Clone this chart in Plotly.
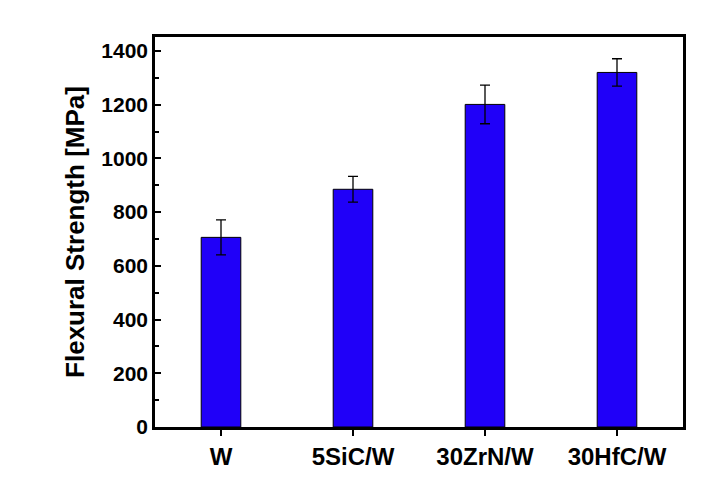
import plotly.graph_objects as go

samples = ["W", "5SiC/W", "30ZrN/W", "30HfC/W"]
strength = [706, 885, 1201, 1320]
strength_err = [65, 48, 72, 51]

fig = go.Figure()

fig.add_trace(
    go.Bar(
        x=samples,
        y=strength,
        width=0.30,
        marker=dict(color="#2000F8", line=dict(color="black", width=1)),
        error_y=dict(type="data", array=strength_err, color="black", thickness=1.3, width=5),
    )
)

# the page body has an 8px margin, so the figure is shifted by that much
fig.update_layout(
    width=704,
    height=495,
    margin=dict(l=147, r=29, t=29, b=76),
    plot_bgcolor="white",
    paper_bgcolor="white",
    showlegend=False,
    font=dict(family="Liberation Sans, Arial", color="black"),
)
fig.update_xaxes(
    range=[-0.5, 3.5],
    showline=True, linecolor="black", linewidth=2.5, mirror=True,
    ticks="outside", ticklen=6, tickwidth=2, tickcolor="black",
    tickfont=dict(size=24, family="Liberation Sans, Arial", weight="bold"),
    showgrid=False,
)
fig.update_yaxes(
    range=[0, 1452],
    dtick=200,
    showline=True, linecolor="black", linewidth=2.5, mirror=True,
    ticks="inside", ticklen=6, tickwidth=2, tickcolor="black",
    minor=dict(dtick=100, ticks="inside", ticklen=4, tickwidth=2, tickcolor="black"),
    tickfont=dict(size=21, family="Liberation Sans, Arial", weight="bold"),
    title=dict(text="Flexural Strength [MPa]", standoff=10,
               font=dict(size=26, family="Liberation Sans, Arial", weight="bold")),
    showgrid=False,
    zeroline=False,
)

fig.write_html("out.html")
